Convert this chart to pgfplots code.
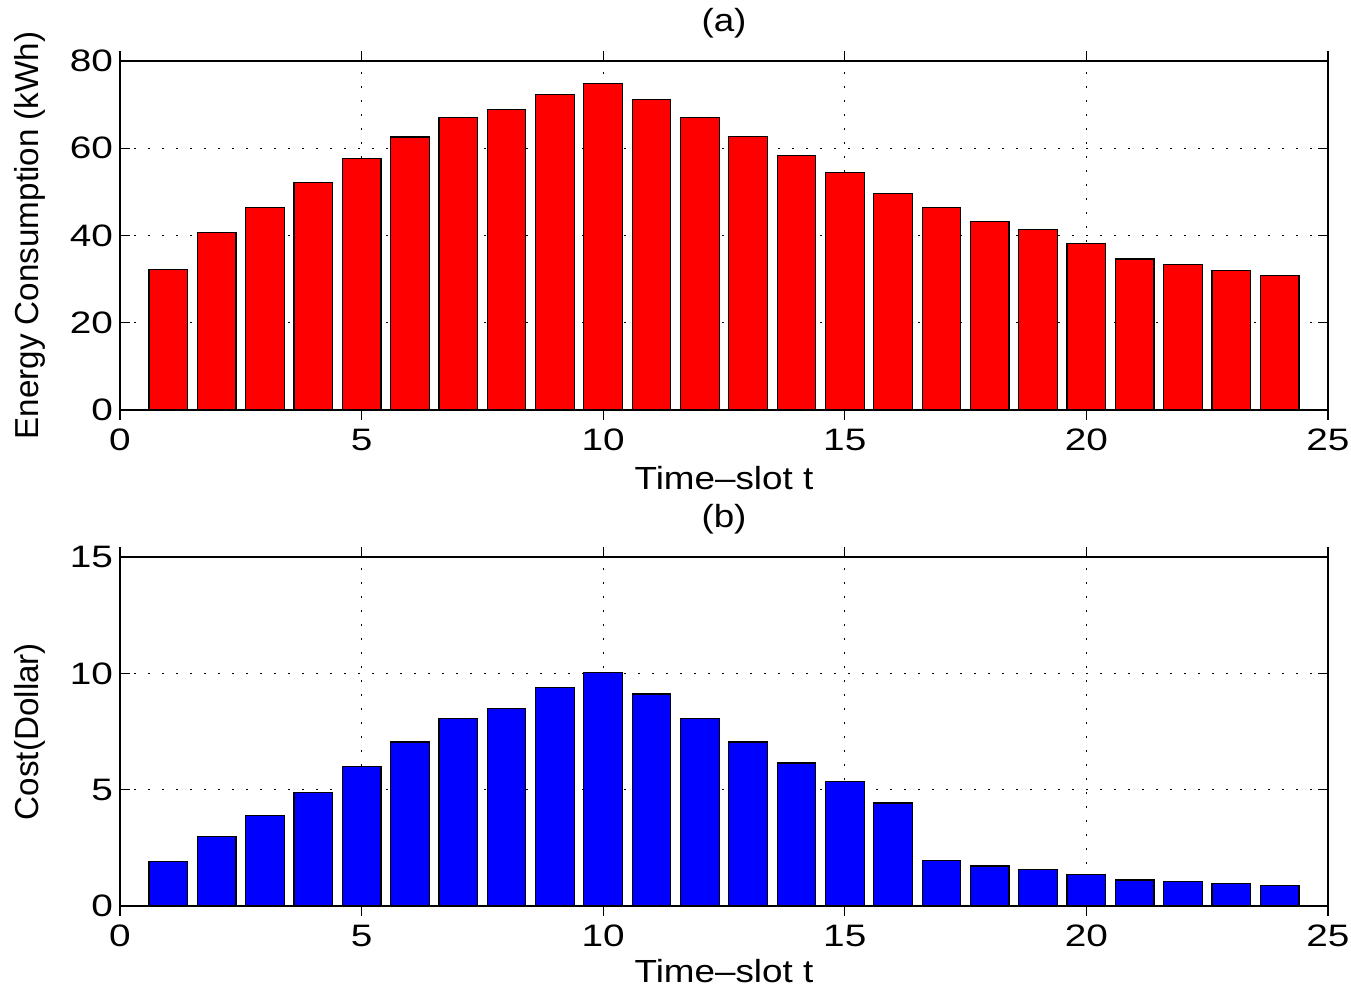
\documentclass[border=0pt]{standalone}
\usepackage{fontspec}
\setmainfont{Liberation Sans}
\newfontfamily\tickfont{Liberation Sans}[FakeStretch=1.25]
\newfontfamily\labelfont{Liberation Sans}[FakeStretch=1.15, Ligatures=TeX]
\usepackage{pgfplots}
\pgfplotsset{compat=1.18}

\pgfplotstableread{
t energy cost
1  32.2 1.90
2  40.6 2.97
3  46.4 3.89
4  52.1 4.89
5  57.7 5.98
6  62.6 7.05
7  67.1 8.07
8  68.8 8.50
9  72.4 9.40
10 74.8 10.03
11 71.2 9.11
12 67.0 8.07
13 62.7 7.05
14 58.4 6.15
15 54.5 5.35
16 49.6 4.43
17 46.5 1.96
18 43.3 1.72
19 41.3 1.56
20 38.2 1.34
21 34.6 1.12
22 33.4 1.04
23 31.9 0.96
24 30.8 0.89
}\slots

\pgfplotsset{
  panel/.style={
    scale only axis,
    width=604pt, height=174.5pt,
    anchor=south west,
    xmin=0, xmax=25, xtick={0,5,...,25},
    grid=major,
    grid style={black, line width=0.55pt, dash pattern=on 0.8pt off 6.2pt},
    axis line style={line width=0.6pt},
    tick style={black, line width=0.6pt},
    major tick length=5pt,
    tick align=inside,
    /pgf/number format/assume math mode=true,
    tick label style={font=\tickfont\fontsize{15.5}{18}\selectfont},
    xlabel style={font=\labelfont\fontsize{16}{19}\selectfont},
    ylabel style={font=\fontsize{16.6}{19}\selectfont},
    every axis title shift=0pt,
    title style={font=\labelfont\fontsize{16}{19}\selectfont,
      at={(axis description cs:0.5,1)}, anchor=center, yshift=19pt},
    xticklabel style={yshift=-1pt},
    xlabel style={at={(axis description cs:0.5,0)}, anchor=center, yshift=-34pt},
    ylabel style={at={(axis description cs:0,0.5)}, anchor=center, yshift=45pt},
    xlabel={Time\textendash slot t},
    ybar, bar width=0.8,
  }
}

\begin{document}
\begin{tikzpicture}
\useasboundingbox (0,0) rectangle (675.5pt,493.5pt);

\begin{axis}[
  panel,
  at={(60pt,288.5pt)},
  ymin=0, ymax=80, ytick={0,20,...,80},
  title={(a)},
  ylabel={Energy Consumption (kWh)},
]
\addplot[fill={rgb,1:red,1;green,0;blue,0}, draw=black, line width=0.6pt]
  table[x=t, y=energy] {\slots};
\end{axis}

\begin{axis}[
  panel,
  at={(60pt,40.5pt)},
  ymin=0, ymax=15, ytick={0,5,10,15},
  title={(b)},
  ylabel={Cost(Dollar)},
  xlabel style={yshift=1.5pt},
]
\addplot[fill={rgb,1:red,0;green,0;blue,1}, draw=black, line width=0.6pt]
  table[x=t, y=cost] {\slots};
\end{axis}
\end{tikzpicture}
\end{document}
